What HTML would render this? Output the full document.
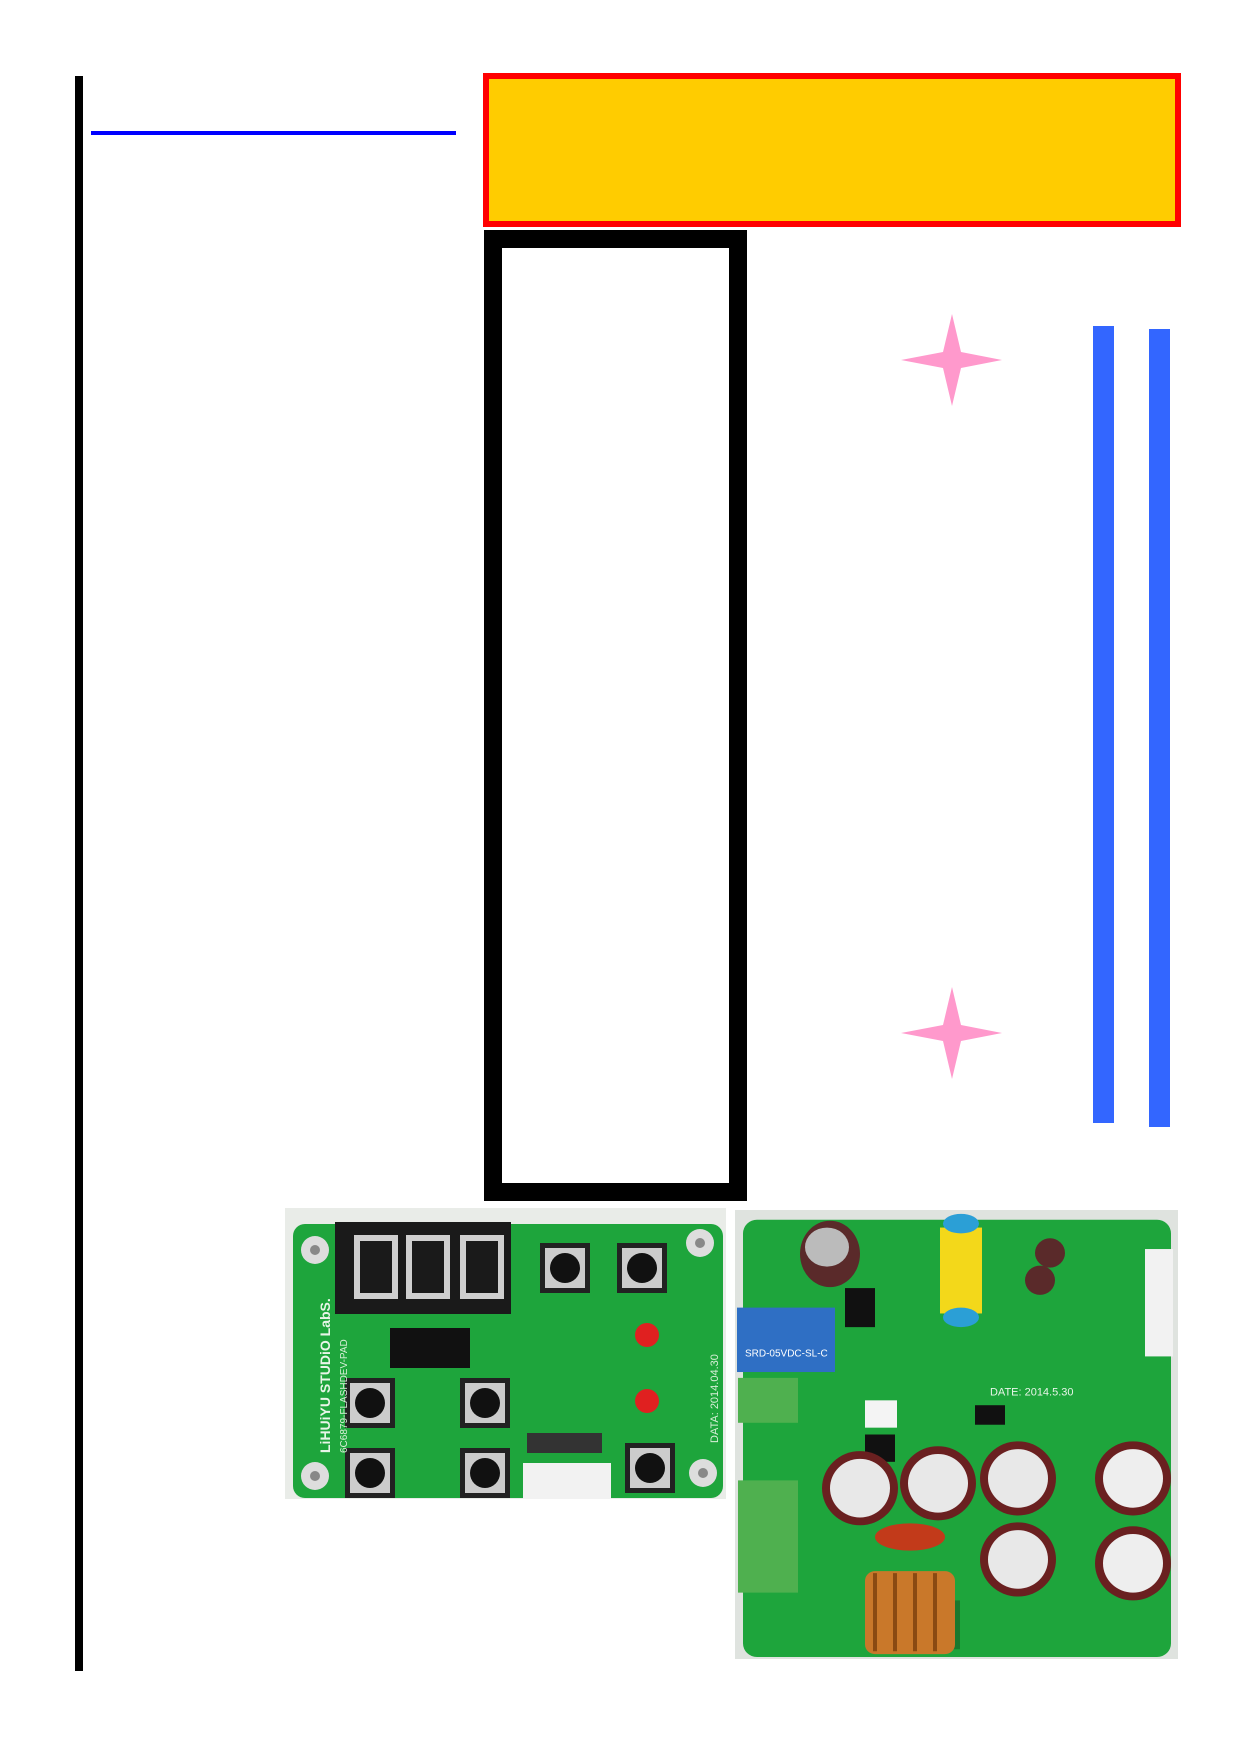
<!DOCTYPE html>
<html><head><meta charset="utf-8"><style>
html,body{margin:0;padding:0;background:#fff;}
body{width:1240px;height:1754px;position:relative;overflow:hidden;font-family:"Liberation Sans",sans-serif;}
.a{position:absolute;}
</style></head><body>
<div class="a" style="left:75px;top:76px;width:8px;height:1595px;background:#000"></div>
<div class="a" style="left:91px;top:131px;width:365px;height:4px;background:#0000ff"></div>
<div class="a" style="left:483px;top:73px;width:686px;height:142px;background:#ffcc00;border:6px solid #ff0000"></div>
<div class="a" style="left:484px;top:230px;width:227px;height:935px;border:18px solid #000;background:#fff"></div>
<svg class="a" style="left:0;top:0" width="1240" height="1754">
<polygon points="952,314 961,352 1002,360 961,368 952,406 943,368 901,360 943,352" fill="#ff99cc"/>
<polygon points="952,987 961,1025 1002,1033 961,1041 952,1079 943,1041 901,1033 943,1025" fill="#ff99cc"/>
<rect x="1093" y="326" width="21" height="797" fill="#3366ff"/>
<rect x="1149" y="329" width="21" height="798" fill="#3366ff"/>
</svg>
<svg class="a" style="left:285px;top:1208px" width="441" height="291" viewBox="0 0 441 291">
<rect width="441" height="291" fill="#e9ece8"/>
<rect x="8" y="16" width="430" height="274" rx="12" fill="#1ea53c"/>
<rect x="50" y="14" width="176" height="92" fill="#1a1a1a"/>
<g fill="none" stroke="#cfcfcf" stroke-width="6">
<rect x="72" y="30" width="38" height="58"/><rect x="124" y="30" width="38" height="58"/><rect x="178" y="30" width="38" height="58"/>
</g>
<rect x="105" y="120" width="80" height="40" fill="#111"/>
<g fill="#ddd"><circle cx="30" cy="42" r="14"/><circle cx="415" cy="35" r="14"/><circle cx="30" cy="268" r="14"/><circle cx="418" cy="265" r="14"/></g>
<g fill="#888"><circle cx="30" cy="42" r="5"/><circle cx="415" cy="35" r="5"/><circle cx="30" cy="268" r="5"/><circle cx="418" cy="265" r="5"/></g>
<g>
<rect x="255" y="35" width="50" height="50" fill="#222"/><rect x="260" y="40" width="40" height="40" fill="#ccc"/><circle cx="280" cy="60" r="15" fill="#111"/>
<rect x="332" y="35" width="50" height="50" fill="#222"/><rect x="337" y="40" width="40" height="40" fill="#ccc"/><circle cx="357" cy="60" r="15" fill="#111"/>
<rect x="60" y="170" width="50" height="50" fill="#222"/><rect x="65" y="175" width="40" height="40" fill="#ccc"/><circle cx="85" cy="195" r="15" fill="#111"/>
<rect x="175" y="170" width="50" height="50" fill="#222"/><rect x="180" y="175" width="40" height="40" fill="#ccc"/><circle cx="200" cy="195" r="15" fill="#111"/>
<rect x="60" y="240" width="50" height="50" fill="#222"/><rect x="65" y="245" width="40" height="40" fill="#ccc"/><circle cx="85" cy="265" r="15" fill="#111"/>
<rect x="175" y="240" width="50" height="50" fill="#222"/><rect x="180" y="245" width="40" height="40" fill="#ccc"/><circle cx="200" cy="265" r="15" fill="#111"/>
<rect x="340" y="235" width="50" height="50" fill="#222"/><rect x="345" y="240" width="40" height="40" fill="#ccc"/><circle cx="365" cy="260" r="15" fill="#111"/>
</g>
<circle cx="362" cy="127" r="12" fill="#e02020"/><circle cx="362" cy="193" r="12" fill="#e02020"/>
<rect x="238" y="255" width="88" height="36" fill="#f2f2f2"/>
<rect x="242" y="225" width="75" height="20" fill="#333"/>
<text transform="translate(45,245) rotate(-90)" font-size="14" font-weight="bold" fill="#e8f5e8">LiHUiYU STUDiO LabS.</text>
<text transform="translate(62,245) rotate(-90)" font-size="10" fill="#d8efd8">6C6879-FLASHDEV-PAD</text>
<text transform="translate(433,235) rotate(-90)" font-size="11" fill="#d8efd8">DATA: 2014.04.30</text>
</svg>
<svg class="a" style="left:735px;top:1210px" width="443" height="449" viewBox="0 0 443 460" preserveAspectRatio="none">
<rect width="443" height="460" fill="#dfe3df"/>
<rect x="8" y="10" width="428" height="448" rx="14" fill="#1ea53c"/>
<ellipse cx="95" cy="45" rx="30" ry="34" fill="#5a2a2a"/><ellipse cx="92" cy="38" rx="22" ry="20" fill="#bbb"/>
<rect x="205" y="18" width="42" height="88" fill="#f3d81a"/>
<ellipse cx="226" cy="14" rx="18" ry="10" fill="#2b9fd6"/><ellipse cx="226" cy="110" rx="18" ry="10" fill="#2b9fd6"/>
<circle cx="315" cy="44" r="15" fill="#5a2a2a"/><circle cx="305" cy="72" r="15" fill="#5a2a2a"/>
<rect x="2" y="100" width="98" height="66" fill="#2f6fc4"/>
<text x="10" y="150" font-size="10" fill="#fff">SRD-05VDC-SL-C</text>
<rect x="410" y="40" width="28" height="110" fill="#f2f2f2"/>
<rect x="3" y="172" width="60" height="46" fill="#4fb04f"/>
<rect x="3" y="277" width="60" height="115" fill="#4fb04f"/>
<rect x="110" y="80" width="30" height="40" fill="#111"/>
<rect x="130" y="230" width="30" height="28" fill="#111"/>
<rect x="240" y="200" width="30" height="20" fill="#111"/>
<rect x="135" y="400" width="90" height="50" fill="#111" opacity=".3"/>
<rect x="130" y="370" width="90" height="85" rx="10" fill="#c9782a"/>
<g stroke="#8a4a12" stroke-width="4"><line x1="140" y1="372" x2="140" y2="452"/><line x1="160" y1="372" x2="160" y2="452"/><line x1="180" y1="372" x2="180" y2="452"/><line x1="200" y1="372" x2="200" y2="452"/></g>
<ellipse cx="175" cy="335" rx="35" ry="14" fill="#c23a1a"/>
<rect x="130" y="195" width="32" height="28" fill="#f4f4f4"/>
<g>
<circle cx="125" cy="285" r="38" fill="#6a2020"/><circle cx="125" cy="285" r="30" fill="#e8e8e8"/>
<circle cx="203" cy="280" r="38" fill="#6a2020"/><circle cx="203" cy="280" r="30" fill="#e8e8e8"/>
<circle cx="283" cy="275" r="38" fill="#6a2020"/><circle cx="283" cy="275" r="30" fill="#e8e8e8"/>
<circle cx="398" cy="275" r="38" fill="#6a2020"/><circle cx="398" cy="275" r="30" fill="#eee"/>
<circle cx="283" cy="358" r="38" fill="#6a2020"/><circle cx="283" cy="358" r="30" fill="#e8e8e8"/>
<circle cx="398" cy="362" r="38" fill="#6a2020"/><circle cx="398" cy="362" r="30" fill="#eee"/>
</g>
<text x="255" y="190" font-size="11" fill="#e8f5e8">DATE: 2014.5.30</text>
</svg>
</body></html>
